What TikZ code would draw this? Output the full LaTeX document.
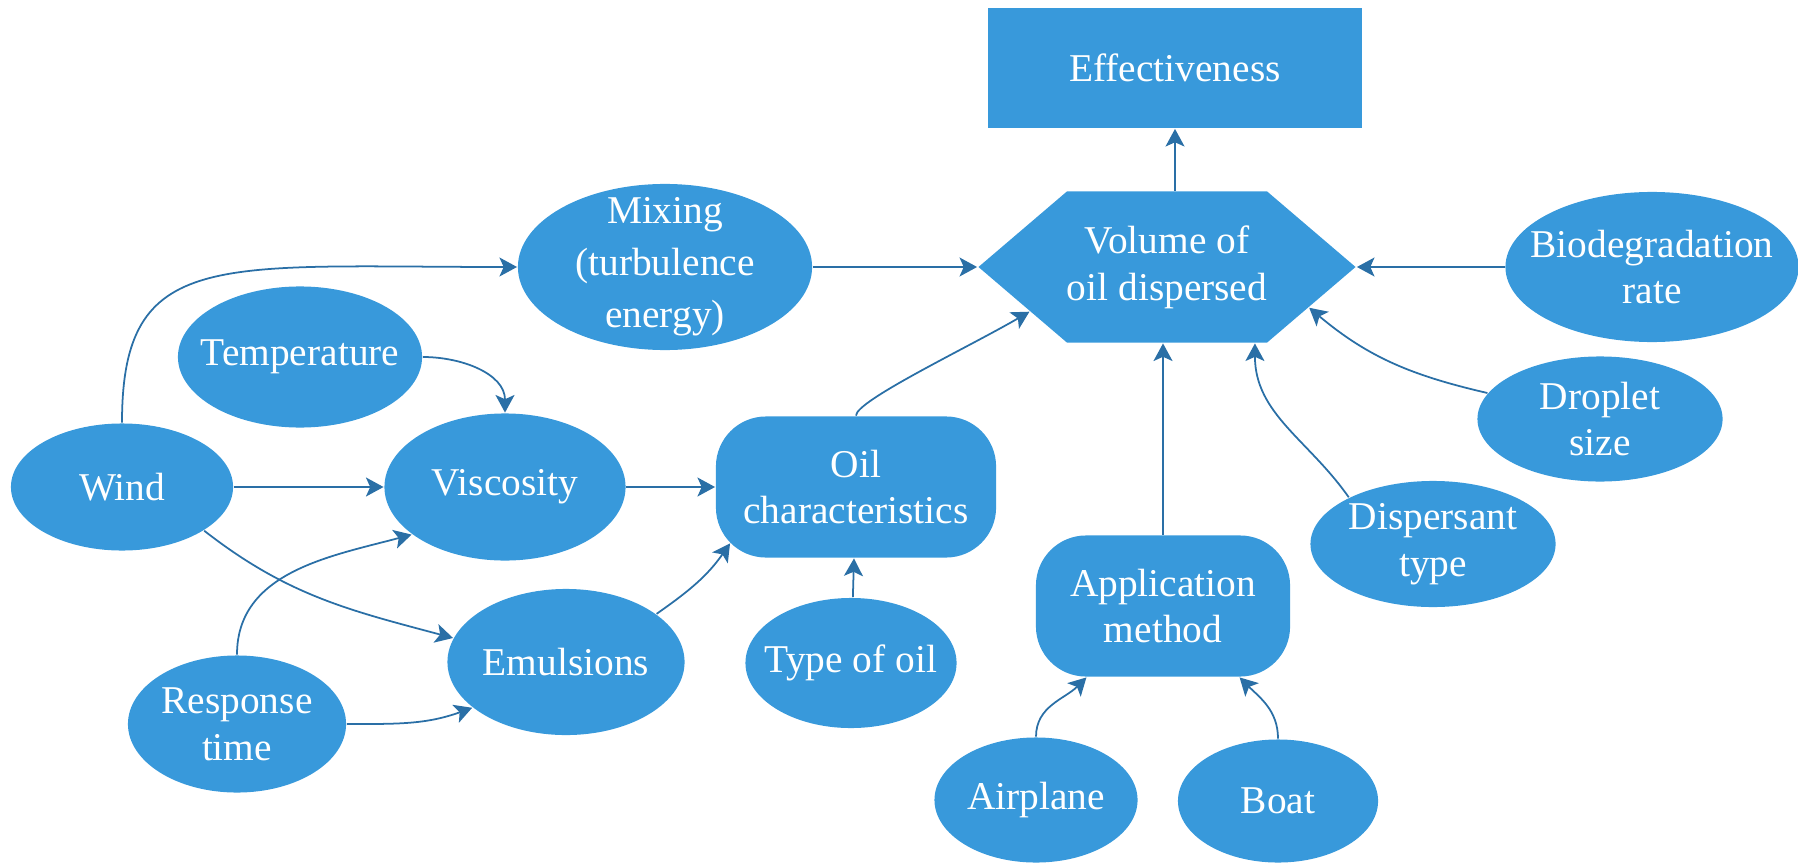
\documentclass[tikz,border=0pt]{standalone}
\usepackage{fontspec}
\setmainfont{Liberation Serif}
\usetikzlibrary{shapes.geometric,shapes.symbols,arrows.meta}
\definecolor{nodeblue}{HTML}{3899DB}
\definecolor{linkblue}{HTML}{2A6FA6}
\begin{document}
\begin{tikzpicture}[x=0.01cm, y=0.01cm,
    >={Stealth[length=5pt, width=5.4pt, inset=1.2pt]},
    color=linkblue, line width=0.5pt,
    every node/.style = {fill=nodeblue, text=white, inner sep=0pt, align=center,
                         font=\fontsize{11.2}{13.3}\selectfont},
    ovalnode/.style = {ellipse, inner xsep=-0.6cm, inner ysep=-0.4cm},
    boxnode/.style = {rectangle, rounded corners=0.5cm},
    hexnode/.style = {signal, signal to=west and east, signal pointer angle=81}]
     \useasboundingbox (0,0) rectangle (1798,-867);

     \node[rectangle, minimum width=3.74cm, minimum height=1.2cm] (eff) at (1175,-68) {Effectiveness};
     \node[hexnode, minimum width=3.68cm, minimum height=1.51cm] (vol) at (1167,-267) {Volume of\\oil dispersed};
     \node[ovalnode, minimum width=2.94cm, minimum height=1.66cm,
           font=\fontsize{11.2}{14.8}\selectfont] (mix) at (665,-267) {Mixing\\(turbulence\\energy)};
     \node[ovalnode, minimum width=2.93cm, minimum height=1.5cm] (bio) at (1652,-267) {Biodegradation\\rate};
     \node[ovalnode, minimum width=2.44cm, minimum height=1.41cm] (temp) at (300,-357) {Temperature};
     \node[ovalnode, minimum width=2.22cm, minimum height=1.27cm] (wind) at (122,-487) {Wind};
     \node[ovalnode, minimum width=2.41cm, minimum height=1.47cm] (visc) at (505,-487) {Viscosity};
     \node[boxnode, minimum width=2.8cm, minimum height=1.41cm] (oil) at (856,-487) {Oil\\characteristics};
     \node[ovalnode, minimum width=2.37cm, minimum height=1.46cm] (emul) at (566,-662) {Emulsions};
     \node[ovalnode, minimum width=2.11cm, minimum height=1.3cm] (toil) at (851,-663) {Type of oil};
     \node[ovalnode, minimum width=2.18cm, minimum height=1.37cm] (resp) at (237,-724) {Response\\time};
     \node[boxnode, minimum width=2.54cm, minimum height=1.41cm] (app) at (1163,-606) {Application\\method};
     \node[ovalnode, minimum width=2.45cm, minimum height=1.26cm] (disp) at (1433,-544) {Dispersant\\type};
     \node[ovalnode, minimum width=2.45cm, minimum height=1.25cm] (drop) at (1600,-419) {Droplet\\size};
     \node[ovalnode, minimum width=2.03cm, minimum height=1.25cm] (air) at (1036,-800) {Airplane};
     \node[ovalnode, minimum width=2cm, minimum height=1.23cm] (boat) at (1278,-801) {Boat};

     \draw[->] (vol.north -| eff.south) -- (eff.south);
     \draw[->] (mix.east) -- (vol.west);
     \draw[->] (bio.west) -- (vol.east);
     \draw[->] (wind.north) .. controls +(0,175) and +(-300,0) .. (mix.west);
     \draw[->] (temp.east) to[out=0,in=90] (visc.north);
     \draw[->] (wind.east) -- (visc.west);
     \draw[->] (wind.-28) to[out=-38,in=165] (emul.168);
     \draw[->] (resp.north) to[out=90,in=195] (visc.207);
     \draw[->] (resp.east) to[out=0,in=200] (emul.206);
     \draw[->] (visc.east) -- (oil.west);
     \draw[->] (emul.28) to[out=35,in=235] ([shift={(15,15)}]oil.south west);
     \draw[->] (toil) -- (oil);
     \draw[->] (oil.north) .. controls +(0,15) and +(-60,-35) .. (vol.198);
     \draw[->] (drop.167) to[out=167,in=-40] (vol.-16);
     \draw[->] (disp.151) to[out=125,in=-90] (vol.-41);
     \draw[->] (app.north) -- (app.north |- vol.south);
     \draw[->] (air.north) to[out=90,in=-135] (app.223);
     \draw[->] (boat.north) to[out=90,in=-45] (app.-43);
\end{tikzpicture}
\end{document}
